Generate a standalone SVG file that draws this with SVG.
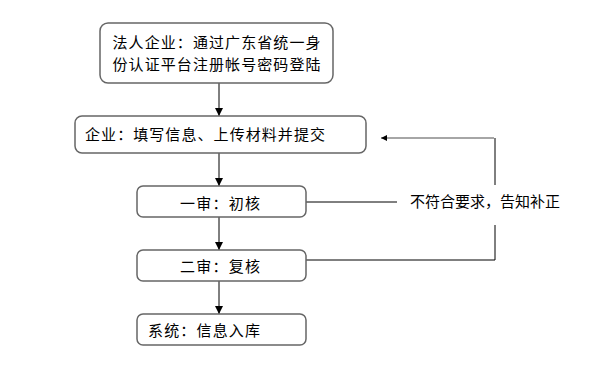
<svg xmlns="http://www.w3.org/2000/svg" width="598" height="378" viewBox="0 0 598 378">
<style>
.box{fill:#fff;stroke:#666;stroke-width:1.5}
.t{font-family:"Noto Sans CJK SC","Noto Sans",sans-serif;font-size:15px;fill:#000}
.ln{fill:none;stroke:#000;stroke-width:1}
</style>
<defs>
<marker id="ah" markerWidth="8" markerHeight="8" refX="8" refY="4" orient="auto" markerUnits="userSpaceOnUse">
<path d="M0,0 L8,4 L0,8 Z" fill="#000"/>
</marker>
<marker id="ah2" markerWidth="6" markerHeight="6" refX="6" refY="3" orient="auto" markerUnits="userSpaceOnUse">
<path d="M0,0 L6,3 L0,6 Z" fill="#000"/>
</marker>
</defs>
<rect width="598" height="378" fill="#fff"/>
<g id="connectors">
<line class="ln" x1="219" y1="83" x2="219" y2="116" marker-end="url(#ah)"/>
<line class="ln" x1="219" y1="153" x2="219" y2="186" marker-end="url(#ah)"/>
<line class="ln" x1="219" y1="217" x2="219" y2="250" marker-end="url(#ah)"/>
<line class="ln" x1="219" y1="281" x2="219" y2="314" marker-end="url(#ah)"/>
<line class="ln" x1="306" y1="202" x2="397" y2="202"/>
<polyline class="ln" points="306,260 495,260 495,225"/>
<line class="ln" x1="495" y1="185" x2="495" y2="138"/>
<line x1="494" y1="138" x2="381" y2="138" stroke="#888" stroke-width="1.5" marker-end="url(#ah2)"/>
<text class="t" x="410" y="207">不符合要求，告知补正</text>
</g>
<g id="n1">
<rect class="box" x="100" y="23" width="233" height="60" rx="8"/>
<text class="t" x="216.5" y="48" text-anchor="middle" textLength="208">法人企业：通过广东省统一身</text>
<text class="t" x="216.5" y="70" text-anchor="middle" textLength="208">份认证平台注册帐号密码登陆</text>
</g>
<g id="n2">
<rect class="box" x="75" y="116" width="291" height="37" rx="7"/>
<text class="t" x="85" y="140" textLength="240">企业：填写信息、上传材料并提交</text>
</g>
<g id="n3">
<rect class="box" x="137" y="186" width="169" height="31" rx="6"/>
<text class="t" x="220" y="209" text-anchor="middle" textLength="80">一审：初核</text>
</g>
<g id="n4">
<rect class="box" x="137" y="250" width="169" height="31" rx="6"/>
<text class="t" x="220" y="272" text-anchor="middle" textLength="80">二审：复核</text>
</g>
<g id="n5">
<rect class="box" x="137" y="314" width="169" height="31" rx="6"/>
<text class="t" x="148" y="336" textLength="112">系统：信息入库</text>
</g>
</svg>
